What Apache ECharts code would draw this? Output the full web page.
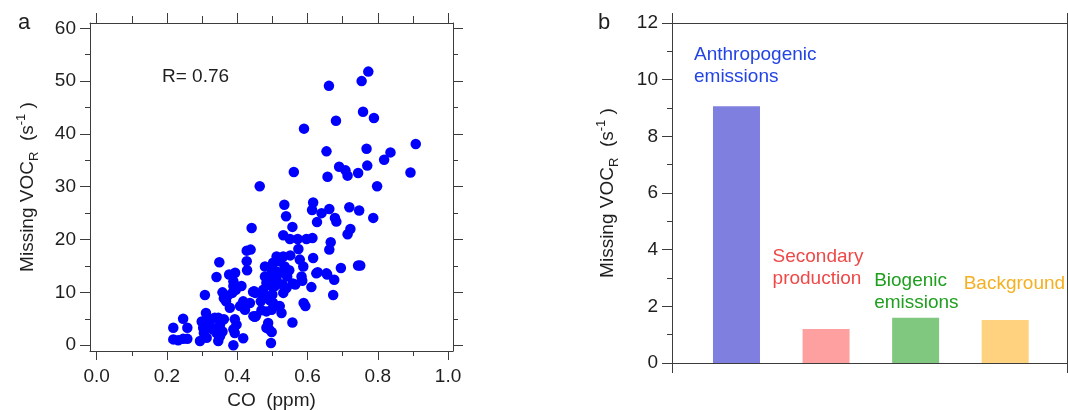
<!DOCTYPE html>
<html>
<head>
<meta charset="utf-8">
<script src="https://cdn.jsdelivr.net/npm/echarts@6/dist/echarts.min.js"></script>
<style>
html,body{margin:0;padding:0;background:#fff;}
#chart{width:1068px;height:410px;}
</style>
</head>
<body>
<div id="chart"></div>
<script>
// ---------- Panel a: scatter data (CO ppm vs missing VOC reactivity s^-1) ----------
const coPpm = [
  0.773,0.754,0.661,0.758,0.789,0.681,0.590,0.908,0.768,0.836,0.654,0.818,0.770,0.690,0.708,0.714,0.744,0.893,0.561,0.657,0.798,0.464,
  0.534,0.616,0.613,0.662,0.719,0.747,0.640,0.539,0.678,0.682,0.627,0.787,0.441,0.557,0.722,0.714,0.531,0.550,0.572,0.597,0.614,0.666,
  0.662,0.574,0.427,0.438,0.551,0.616,0.578,0.349,0.427,0.695,0.744,0.750,0.588,0.428,0.629,0.656,0.676,0.583,0.341,0.377,0.394,0.585,
  0.565,0.611,0.389,0.389,0.412,0.673,0.308,0.589,0.594,0.557,0.540,0.558,0.625,0.654,
  0.218,0.218,0.232,0.246,0.246,0.258,0.258,0.294,0.299,0.303,0.305,0.311,0.313,0.320,0.322,0.330,0.336,0.341,0.346,0.346,0.351,0.351,
  0.358,0.362,0.358,0.362,0.368,0.379,0.372,0.386,0.396,0.393,0.398,0.389,0.393,0.389,0.417,0.417,0.422,0.436,0.408,0.448,0.453,0.446,
  0.474,0.474,0.479,0.479,0.474,0.483,0.483,0.488,0.483,0.491,0.498,0.496,0.498,0.493,0.500,0.498,0.493,0.498,0.502,0.510,0.512,0.507,
  0.502,0.512,0.521,0.521,0.521,0.526,0.529,0.531,0.535,0.542,0.548,0.535,0.531,0.512,0.467,0.451,0.469,0.450,0.493,0.445
];
const missingVocR = [
  51.8,50.0,49.1,44.2,43.0,42.5,41.0,38.1,37.2,36.5,36.7,35.1,34.0,33.8,33.1,32.1,32.6,32.7,32.8,31.9,30.1,30.1,
  26.6,27.0,25.6,25.8,26.1,25.5,25.0,24.4,24.1,23.4,23.3,24.1,22.2,22.4,22.0,21.0,20.8,20.1,20.1,20.1,20.3,19.5,
  18.1,18.2,17.9,18.1,17.0,16.5,16.2,15.7,15.9,14.6,15.1,15.1,14.9,14.2,13.8,13.4,12.4,13.0,12.9,13.4,13.7,12.2,
  11.5,11.0,12.1,11.2,11.2,9.5,9.5,8.0,7.4,4.3,10.8,11.7,13.6,13.6,
  3.3,1.1,0.95,5.0,1.2,3.3,1.2,0.8,4.5,3.3,2.3,6.1,1.4,4.9,3.9,3.0,5.2,2.3,0.8,5.2,3.9,1.7,
  2.6,4.9,10.0,8.9,8.3,7.1,9.3,9.9,10.5,4.9,3.9,3.0,2.3,0.0,1.3,8.3,6.7,8.0,7.4,10.2,5.5,5.5,
  9.9,9.3,14.9,13.0,10.5,11.8,6.4,4.2,3.3,3.0,2.5,0.4,6.7,8.6,9.6,11.2,13.0,14.3,15.6,14.0,12.4,11.2,
  8.0,7.4,15.9,13.7,7.4,6.1,11.5,9.9,13.7,13.0,14.2,14.9,16.8,16.8,8.3,9.9,6.6,5.4,8.5,10.1
];
const correlationText = 'R= 0.76';

// tick values
const xMajorTicksA = [0, 0.2, 0.4, 0.6, 0.8, 1.0];
const xMinorTicksA = [0.1, 0.3, 0.5, 0.7, 0.9];
const yMajorTicksA = [0, 10, 20, 30, 40, 50, 60];
const yMinorTicksA = [5, 15, 25, 35, 45, 55];

// ---------- Panel b: bar data ----------
const sourceCategories = ['Anthropogenic\nemissions', 'Secondary\nproduction', 'Biogenic\nemissions', 'Background'];
const sourceValues = [9.06, 1.2, 1.6, 1.52];

// ---------- styles (kept apart from data) ----------
const FONT = "'Liberation Sans', Arial, sans-serif";
const TXT = '#1e1e1e';
const LINE = '#3c3c3c';
const barColors = ['#7f7fe0', '#ffa0a0', '#80c880', '#ffd27f'];
const textColors = ['#2344e4', '#ee4848', '#1f9f1f', '#f4b020'];
const labelPlacement = [[-19, -63], [-30, -83], [-18, -48], [-18, -47]];

const xRangeA = [-0.019, 1.014];
const yRangeA = [-1.1, 61];
const xRangeB = [0.28, 4.69];

const nameRich = {
  m: { fontSize: 19, lineHeight: 26, color: TXT, fontFamily: FONT },
  sub: { fontSize: 13, lineHeight: 13, verticalAlign: 'bottom', color: TXT, fontFamily: FONT },
  sup: { fontSize: 13, lineHeight: 13, verticalAlign: 'top', color: TXT, fontFamily: FONT }
};
const vocName = '{m|Missing VOC}{sub|R}{m|  (s}{sup|-1}{m| )}';

function xAx(grid, pos, range, ticks, len, showLine, labels) {
  return {
    type: 'value', gridIndex: grid, position: pos, min: range[0], max: range[1],
    axisLine: { show: showLine, onZero: false, lineStyle: { color: LINE, width: 1 } },
    axisTick: { show: true, inside: false, length: len, customValues: ticks, lineStyle: { color: LINE, width: 1 } },
    axisLabel: labels ? Object.assign({ show: true, customValues: ticks, color: TXT, fontSize: 19, fontFamily: FONT }, labels) : { show: false },
    splitLine: { show: false }
  };
}
function yAx(grid, pos, range, ticks, len, showLine, labels) {
  return {
    type: 'value', gridIndex: grid, position: pos, min: range[0], max: range[1],
    axisLine: { show: showLine, onZero: false, lineStyle: { color: LINE, width: 1 } },
    axisTick: { show: true, inside: false, length: len, customValues: ticks, lineStyle: { color: LINE, width: 1 } },
    axisLabel: labels ? Object.assign({ show: true, customValues: ticks, color: TXT, fontSize: 19, fontFamily: FONT }, labels) : { show: false },
    splitLine: { show: false }
  };
}

const xAxes = [
  Object.assign(xAx(0, 'bottom', xRangeA, xMajorTicksA, 9, true, { margin: 16, formatter: v => v.toFixed(1) }), {
    name: 'CO  (ppm)', nameLocation: 'middle', nameGap: 40,
    nameTextStyle: { fontSize: 19, color: TXT, fontFamily: FONT }
  }),
  xAx(0, 'bottom', xRangeA, xMinorTicksA, 5, false, null),
  xAx(0, 'top', xRangeA, xMajorTicksA, 10, true, null),
  xAx(0, 'top', xRangeA, xMinorTicksA, 7, false, null),
  xAx(1, 'bottom', xRangeB, xRangeB, 10, true, null),
  xAx(1, 'top', xRangeB, xRangeB, 10, true, null)
];
const yAxes = [
  Object.assign(yAx(0, 'left', yRangeA, yMajorTicksA, 10, true, { margin: 14 }), {
    name: vocName, nameLocation: 'middle', nameGap: 49, nameTextStyle: { rich: nameRich }
  }),
  yAx(0, 'left', yRangeA, yMinorTicksA, 5, false, null),
  yAx(0, 'right', yRangeA, yMajorTicksA, 10, true, null),
  yAx(0, 'right', yRangeA, yMinorTicksA, 5, false, null),
  {
    type: 'value', gridIndex: 1, position: 'left', min: 0, max: 12, interval: 2,
    axisLine: { show: true, onZero: false, lineStyle: { color: LINE, width: 1 } },
    axisTick: { show: true, inside: false, length: 10, lineStyle: { color: LINE, width: 1 } },
    minorTick: { show: true, splitNumber: 2, length: 5, lineStyle: { color: LINE, width: 1 } },
    axisLabel: { show: true, margin: 14, color: TXT, fontSize: 19, fontFamily: FONT },
    splitLine: { show: false }, minorSplitLine: { show: false },
    name: vocName, nameLocation: 'middle', nameGap: 51, nameTextStyle: { rich: nameRich }
  },
  {
    type: 'value', gridIndex: 1, position: 'right', min: 0, max: 12, interval: 2,
    axisLine: { show: true, onZero: false, lineStyle: { color: LINE, width: 1 } },
    axisTick: { show: false }, axisLabel: { show: false }, splitLine: { show: false }
  }
];

const scatterData = coPpm.map((x, i) => [x, missingVocR[i]]);
const barData = sourceValues.map((v, i) => ({
  value: [i + 1, v],
  itemStyle: { color: barColors[i] },
  label: {
    show: true, position: labelPlacement[i], align: 'left', verticalAlign: 'top',
    formatter: sourceCategories[i], color: textColors[i], fontSize: 19, lineHeight: 22, fontFamily: FONT
  }
}));

const chart = echarts.init(document.getElementById('chart'), null, { renderer: 'canvas' });
chart.setOption({
  animation: false,
  backgroundColor: '#ffffff',
  textStyle: { fontFamily: FONT },
  title: [
    { text: 'a', left: 18, top: 12, padding: 0, textStyle: { fontSize: 22, fontWeight: 'normal', color: TXT, fontFamily: FONT } },
    { text: 'b', left: 598, top: 12, padding: 0, textStyle: { fontSize: 22, fontWeight: 'normal', color: TXT, fontFamily: FONT } },
    { text: correlationText, left: 162, top: 67, padding: 0, textStyle: { fontSize: 19, fontWeight: 'normal', color: TXT, fontFamily: FONT } }
  ],
  grid: [
    { left: 90, top: 23, width: 363, height: 328, containLabel: false, outerBoundsMode: 'none' },
    { left: 672, top: 23, width: 395, height: 340, containLabel: false, outerBoundsMode: 'none' }
  ],
  xAxis: xAxes,
  yAxis: yAxes,
  series: [
    {
      type: 'scatter', xAxisIndex: 0, yAxisIndex: 0, data: scatterData,
      symbol: 'circle', symbolSize: 10.5, itemStyle: { color: '#0000ff', opacity: 1 }, silent: true
    },
    {
      type: 'bar', xAxisIndex: 4, yAxisIndex: 4, data: barData, barWidth: 47, silent: true
    }
  ]
});
</script>
</body>
</html>
